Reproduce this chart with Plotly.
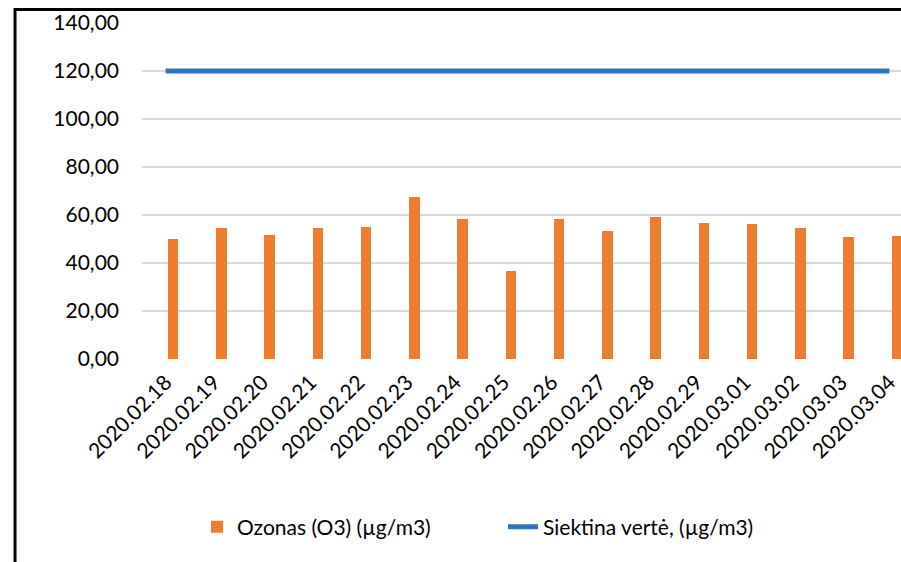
import plotly.graph_objects as go

dates = ["2020.02.18", "2020.02.19", "2020.02.20", "2020.02.21", "2020.02.22", "2020.02.23",
         "2020.02.24", "2020.02.25", "2020.02.26", "2020.02.27", "2020.02.28", "2020.02.29",
         "2020.03.01", "2020.03.02", "2020.03.03", "2020.03.04"]
ozone = [50.0, 54.6, 51.7, 54.6, 55.0, 67.6, 58.5, 36.7, 58.2, 53.3, 59.0, 56.5, 56.2, 54.6, 50.7, 51.2]
target = [120.0] * len(dates)
y_ticks = [0, 20, 40, 60, 80, 100, 120, 140]
y_tick_labels = ["0,00", "20,00", "40,00", "60,00", "80,00", "100,00", "120,00", "140,00"]

FONT = "Lato"

fig = go.Figure()
fig.add_trace(go.Bar(
    x=dates, y=ozone, name="Ozonas (O3) (µg/m3)",
    marker=dict(color="#ED7D31", line=dict(width=0)),
    width=0.22, offset=0.045,
))
fig.add_trace(go.Scatter(
    x=dates, y=target, name="Siektina vertė, (µg/m3)", mode="lines",
    line=dict(color="#2E75B6", width=5),
))

fig.update_layout(
    width=901, height=562,
    margin=dict(l=142, r=0, t=23, b=203),
    paper_bgcolor="white", plot_bgcolor="white",
    font=dict(family=FONT, size=21, color="black"),
    showlegend=True,
    legend=dict(orientation="h", x=0.0725, xanchor="left", y=-0.5, yanchor="middle",
                font=dict(size=21), entrywidth=261, tracegroupgap=0),
    bargap=0,
)
fig.update_xaxes(
    type="category", range=[-0.49, 15.24], tickangle=-45,
    showgrid=False, showline=False, zeroline=False, ticks="",
    ticklabelstandoff=6, tickfont=dict(size=21),
)
fig.update_yaxes(
    range=[0, 140], tickvals=y_ticks, ticktext=y_tick_labels,
    showgrid=True, gridcolor="#D9D9D9", gridwidth=1.5, zeroline=False, showline=False,
    ticks="", ticklabelstandoff=22, tickfont=dict(size=21),
)
fig.add_shape(type="rect", xref="paper", yref="paper",
              x0=-0.1673, x1=1.2, y0=-0.7, y1=1.0402,
              line=dict(color="black", width=3), fillcolor="rgba(0,0,0,0)", layer="above")

# remove the default 8px page margin so the 901x562 figure fills the window exactly
post = "document.body.style.margin='0';document.body.style.overflow='hidden';"
fig.write_html("out.html", post_script=post, config={"displayModeBar": False})
